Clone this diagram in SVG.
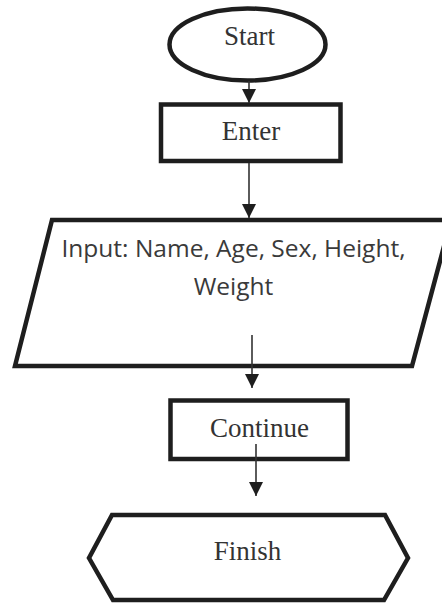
<svg xmlns="http://www.w3.org/2000/svg" width="442" height="603" viewBox="0 0 442 603">
<style>
.shape{fill:#fff;stroke:#1e1e1e;stroke-width:4.5;stroke-linejoin:miter}
.serif{font-family:"Liberation Serif","Times New Roman",serif;font-size:27px;fill:#333;text-anchor:middle}
.sans{font-family:"Open Sans","Liberation Sans",sans-serif;font-size:24.5px;fill:#3a3a3a;text-anchor:middle}
.conn{stroke:#333;stroke-width:1.6;fill:none;marker-end:url(#arrow)}
</style>
<defs>
<marker id="arrow" viewBox="0 0 14 14" refX="14" refY="7" markerWidth="14" markerHeight="14" markerUnits="userSpaceOnUse" orient="auto">
<path d="M0,0 L14,7 L0,14 z" fill="#1e1e1e"/>
</marker>
</defs>
<rect width="442" height="603" fill="#fff"/>
<g id="start">
<ellipse class="shape" cx="247.5" cy="44.5" rx="78" ry="36" stroke-width="3.5"/>
<text class="serif" x="249.5" y="45">Start</text>
</g>
<g id="enter">
<rect class="shape" x="161" y="104.5" width="179.5" height="56.5"/>
<text class="serif" x="251" y="140">Enter</text>
</g>
<g id="input">
<polygon class="shape" points="52,220 451,220 412,366 15,366"/>
<text class="sans" x="233.5" y="257">Input: Name, Age, Sex, Height,</text>
<text class="sans" x="233.5" y="295">Weight</text>
</g>
<g id="continue">
<rect class="shape" x="170.5" y="400.5" width="177" height="58.5"/>
<text class="serif" x="259.5" y="437">Continue</text>
</g>
<g id="finish">
<polygon class="shape" points="112,515 385,515 408,558 384,600 113,600 89,558"/>
<text class="serif" x="247.5" y="560">Finish</text>
</g>
<g id="connectors">
<path class="conn" d="M249,81 L249,103"/>
<path class="conn" d="M249,163 L249,218"/>
<path class="conn" d="M252,335 L252,388"/>
<path class="conn" d="M256,444 L256,496"/>
</g>
</svg>
